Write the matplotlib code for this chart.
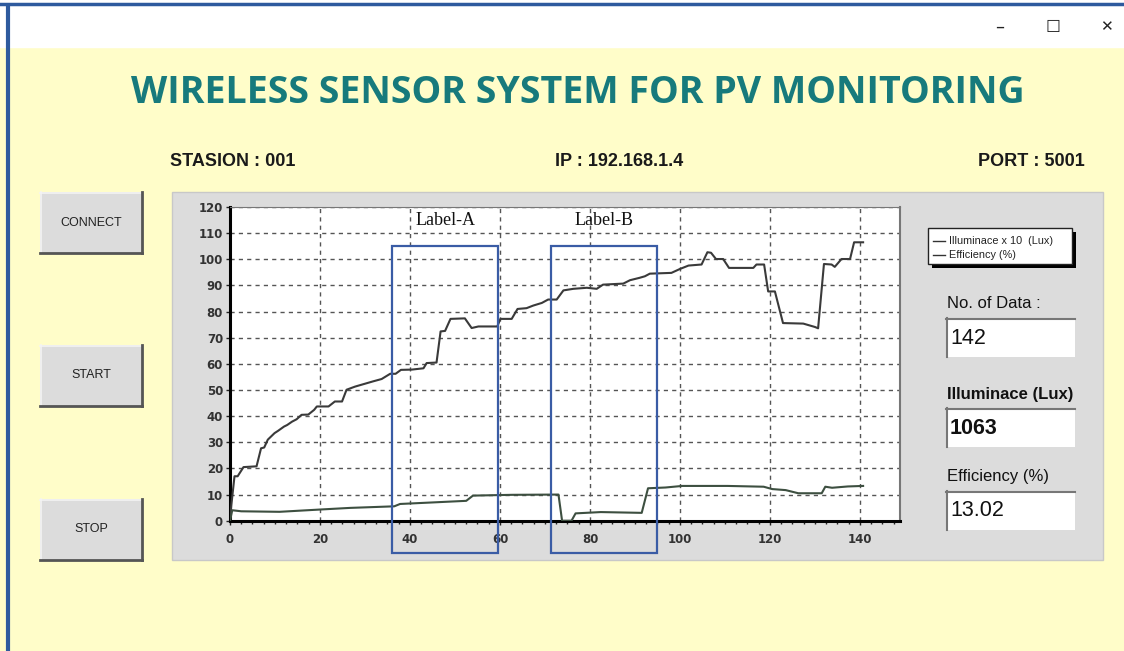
import matplotlib
matplotlib.use("Agg")
import matplotlib.pyplot as plt
from matplotlib.patches import Rectangle

W, H = 1124, 651

# ---------------- data ----------------
ill_x = [0, 0.3, 1, 1.7, 3, 5.9, 6.9, 7.6, 8.4, 9.9, 10.7, 12, 12.7, 13.8, 14.8, 15.9,
         17.4, 18.7, 19.3, 21.9, 23.3, 24.9, 25.9, 27.8, 30, 31.8, 33.7, 35.6, 36.8, 38,
         40.4, 43, 43.7, 45.9, 46.8, 47.8, 49, 52.2, 53.7, 55.2, 59.4, 60.1, 62.6, 63.9,
         65.9, 67.4, 69.3, 70.7, 72.6, 74.1, 76.3, 79.3, 81.5, 82.9, 87.4, 88.9, 91, 92.2,
         93.3, 98.1, 100, 101.9, 104.8, 106.1, 106.9, 108, 109.6, 110.9, 116.3, 117, 118.7,
         119.6, 121.1, 122.9, 127.4, 130, 130.7, 132, 133.7, 134.4, 135.9, 137.8, 138.7, 140.7]
ill_y = [0, 6, 17, 17, 20.5, 20.8, 27.7, 28, 31, 33.5, 34.4, 36, 36.6, 37.9, 38.8, 40.5,
         40.6, 42.4, 43.7, 43.7, 45.6, 45.6, 50.1, 51.3, 52.4, 53.3, 54.2, 56.2, 56.2, 57.7,
         57.8, 58.3, 60.3, 60.5, 72.4, 72.6, 77.2, 77.4, 73.7, 74.3, 74.3, 77.2, 77.2, 81,
         81.3, 82.3, 83.3, 84.6, 84.6, 88.1, 88.7, 89.1, 88.7, 90.3, 90.7, 92, 92.9, 93.5,
         94.5, 94.8, 96.3, 97.6, 98, 102.7, 102.5, 100.1, 100.1, 96.7, 96.7, 98, 98,
         87.7, 87.7, 75.6, 75.4, 74.1, 73.6, 98.2, 98, 97.1, 100.1, 100.1, 106.5, 106.5]

eff_x = [0, 0.5, 2.5, 11, 20.3, 26.7, 36.5, 37.8, 45.2, 52.5, 54, 62.7, 73.0, 73.8, 75.9,
         76.8, 82.4, 91.5, 92.9, 96.8, 100.5, 110.6, 118.6, 120.5, 123.5, 126.3, 131.5,
         132.3, 133.8, 137.3, 140.7]
eff_y = [0, 4.0, 3.6, 3.4, 4.3, 4.9, 5.5, 6.4, 7.0, 7.6, 9.6, 9.9, 10.0, 0, 0,
         2.8, 3.3, 3.0, 12.4, 12.7, 13.3, 13.3, 13.0, 12.1, 11.7, 10.5, 10.5,
         13.0, 12.6, 13.1, 13.3]

x_ticks = [0, 20, 40, 60, 80, 100, 120, 140]
y_ticks = [0, 10, 20, 30, 40, 50, 60, 70, 80, 90, 100, 110, 120]

label_names = ["Label-A", "Label-B"]
label_x0 = [36.0, 71.3]
label_x1 = [59.6, 94.9]
label_y0, label_y1 = -12.4, 104.9

title = "WIRELESS SENSOR SYSTEM FOR PV MONITORING"
header = ["STASION : 001", "IP : 192.168.1.4", "PORT : 5001"]
buttons = ["CONNECT", "START", "STOP"]
legend_labels = ["Illuminace x 10  (Lux)", "Efficiency (%)"]
field_labels = ["No. of Data :", "Illuminace (Lux)", "Efficiency (%)"]
field_values = ["142", "1063", "13.02"]

# ---------------- figure ----------------
fig = plt.figure(figsize=(W / 100, H / 100), dpi=100)
bg = fig.add_axes([0, 0, 1, 1])
bg.set_xlim(0, W)
bg.set_ylim(H, 0)
bg.axis("off")

YEL = "#FFFDC9"
GRAY = "#DCDCDC"

bg.add_patch(Rectangle((0, 0), W, H, color=YEL, zorder=0))
bg.add_patch(Rectangle((0, 0), W, 47, color="white", zorder=1))
# window border
bg.plot([8, 8], [3, H], color="#2E5A9E", lw=3, zorder=5, solid_capstyle="butt")
bg.plot([0, W], [3.5, 3.5], color="#2E5A9E", lw=2.5, zorder=5)
# window buttons
for gx, g, fs in [(1000, "\u2013", 13), (1053, "\u2610", 12), (1106, "\u2715", 11)]:
    bg.text(gx, 27, g, ha="center", va="center", fontsize=fs, color="#222",
            family="DejaVu Sans", zorder=6)

# title
bg.text(578, 93, title, ha="center", va="center", fontsize=27, fontweight="bold",
        color="#177A7C", family="Open Sans", zorder=6)

# header
hf = dict(fontsize=13, fontweight="bold", color="#1a1a1a", va="center",
          family="Liberation Sans", zorder=6)
bg.text(170, 162, header[0], ha="left", **hf)
bg.text(619, 162, header[1], ha="center", **hf)
bg.text(1085, 162, header[2], ha="right", **hf)

# buttons
for (by, name) in zip([192, 345, 499], buttons):
    bx, bw, bh = 40, 102, 61
    bg.add_patch(Rectangle((bx, by), bw, bh, facecolor=GRAY, edgecolor="none", zorder=2))
    bg.plot([bx, bx + bw], [by + 0.5, by + 0.5], color="#F4F4F4", lw=1.2, zorder=3)
    bg.plot([bx + 0.5, bx + 0.5], [by, by + bh], color="#F4F4F4", lw=1.2, zorder=3)
    bg.plot([bx, bx + bw], [by + bh, by + bh], color="#555", lw=2, zorder=3)
    bg.plot([bx + bw, bx + bw], [by, by + bh], color="#555", lw=2, zorder=3)
    bg.text(bx + bw / 2, by + bh / 2, name, ha="center", va="center", fontsize=9,
            color="#222", family="Liberation Sans", zorder=4)

# main gray panel
bg.add_patch(Rectangle((172, 192), 931, 368, facecolor=GRAY, edgecolor="#C8C8C8",
                       lw=1, zorder=2))

# legend box with shadow
bg.add_patch(Rectangle((932, 232), 144, 36, facecolor="black", edgecolor="none", zorder=3))
bg.add_patch(Rectangle((928, 228), 144, 36, facecolor="white", edgecolor="#222",
                       lw=1, zorder=4))
for ly, lab in zip([241, 255], legend_labels):
    bg.plot([933, 945], [ly, ly], color="#333", lw=1, zorder=5)
    bg.text(949, ly, lab, ha="left", va="center", fontsize=7.8, color="#222",
            family="Liberation Sans", zorder=5)

# value fields
for fy, lab, val, bold in zip([304, 394, 477], field_labels, field_values,
                              [False, True, False]):
    bg.text(947, fy, lab, ha="left", va="center", fontsize=12, color="#111",
            fontweight="bold" if bold else "normal", family="Liberation Sans", zorder=5)
    by0 = fy + 14
    bg.add_patch(Rectangle((946, by0), 129, 39, facecolor="white", edgecolor="none",
                           zorder=4))
    bg.plot([946, 1075], [by0 + 0.5, by0 + 0.5], color="#777", lw=1.5, zorder=5)
    bg.plot([946.5, 946.5], [by0, by0 + 39], color="#777", lw=1.5, zorder=5)
    bg.text(950, by0 + 20, val, ha="left", va="center", fontsize=15.5, color="#111",
            fontweight="bold" if bold else "normal", family="Liberation Sans", zorder=5)

# ---------------- plot axes ----------------
x0p, x1p, y0p, y1p = 230, 900, 207, 520.7
ax = fig.add_axes([x0p / W, 1 - y1p / H, (x1p - x0p) / W, (y1p - y0p) / H])
ax.set_facecolor("white")
ax.set_xlim(0, 148.9)
ax.set_ylim(0, 120)
ax.plot(ill_x, ill_y, color="#3a3a3a", lw=1.5, zorder=3)
ax.plot(eff_x, eff_y, color="#3d4f40", lw=1.5, zorder=3)
ax.set_xticks(x_ticks)
ax.set_yticks(y_ticks)
ax.set_xticks([t * 2.5 for t in range(0, 60)], minor=True)
ax.grid(True, which="major", color="#555", linestyle=(0, (3, 3)), lw=1)
ax.tick_params(axis="both", which="major", labelsize=8.5, labelcolor="#333",
               length=3, width=1, color="#222")
ax.tick_params(axis="x", which="minor", length=2, width=1, color="#222")
for lbl in ax.get_xticklabels() + ax.get_yticklabels():
    lbl.set_fontweight("bold")
ax.tick_params(axis="x", pad=6)
ax.tick_params(axis="y", pad=2)
ax.spines["left"].set_linewidth(2.2)
ax.spines["bottom"].set_linewidth(2.2)
ax.spines["top"].set_color("#777")
ax.spines["right"].set_color("#777")
ax.spines["right"].set_linewidth(1.5)

for name, a, b in zip(label_names, label_x0, label_x1):
    ax.add_patch(Rectangle((a, label_y0), b - a, label_y1 - label_y0, fill=False,
                           edgecolor="#3A5CA5", lw=1.6, clip_on=False, zorder=5))
    ax.text((a + b) / 2, 115, name, ha="center", va="center", fontsize=13,
            family="Liberation Serif", color="#111", zorder=6)

fig.savefig("out.png", dpi=100)
